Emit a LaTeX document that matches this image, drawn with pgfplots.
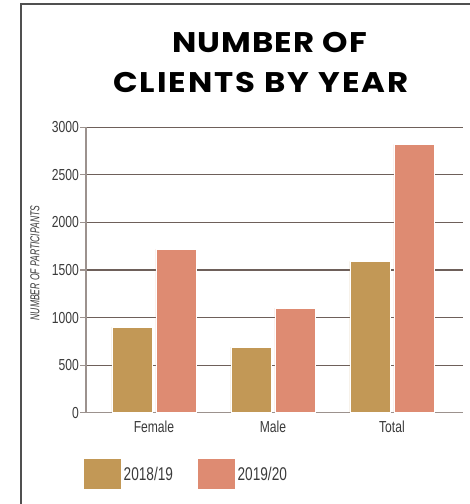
\documentclass[border=0pt]{standalone}
\usepackage{pgfplots}
\pgfplotsset{compat=1.18}
\usepackage{fontspec}
\setmainfont{Liberation Sans}
\newfontfamily\condfont[FakeStretch=0.76]{Liberation Sans}
\newfontfamily\legfont[FakeStretch=0.74]{Liberation Sans}
\newfontfamily\labfont[FakeStretch=0.66]{Liberation Sans}
\newfontfamily\titlefont[FakeStretch=1.14, LetterSpace=4]{Poppins}
\newfontfamily\titlefontb[FakeStretch=1.14, LetterSpace=7]{Poppins}
\definecolor{gold}{HTML}{C29856}
\definecolor{salmon}{HTML}{DE8B72}
\definecolor{gridc}{HTML}{6E605A}
\definecolor{axc}{HTML}{9C928E}
\definecolor{txt}{HTML}{3A3A3A}
\definecolor{framec}{HTML}{505050}
\begin{document}
\begin{tikzpicture}[x=1bp,y=1bp]
\draw[framec, line width=2bp] (21,-2) -- (21,500) -- (472,500);
\node[anchor=base, inner sep=0pt] at (269.5,451.3) {\titlefont\bfseries\fontsize{28.5}{30}\selectfont NUMBER OF};
\node[anchor=base, inner sep=0pt] at (261,411) {\titlefontb\bfseries\fontsize{28.5}{30}\selectfont CLIENTS BY YEAR};
\begin{axis}[
  at={(86bp,91.3bp)}, anchor=south west,
  scale only axis, width=377bp, height=285.4bp,
  ymin=0, ymax=3000, xmin=-0.571, xmax=2.597,
  axis x line=bottom, axis y line=left,
  axis line style={-, draw=axc, line width=1.2bp},
  ytick={0,500,1000,1500,2000,2500,3000},
  xtick={0,1,2}, xticklabels={Female,Male,Total},
  x tick style={draw=none},
  y tick style={draw=axc, line width=1.2bp},
  major tick length=6bp, tick align=outside,
  ymajorgrids, grid style={draw=gridc, line width=1.2bp},
  ybar=4bp, bar width=40bp,
  /pgf/number format/1000 sep={},
  /pgf/number format/assume math mode=true,
  tick label style={font=\condfont\fontsize{16}{18}\selectfont, text=txt},
  yticklabel style={inner sep=1bp},
  xticklabel style={yshift=1bp},
  legend style={at={(axis description cs:-0.016,-0.152)}, anchor=north west,
    draw=none, fill=none, font=\legfont\fontsize{18.5}{20}\selectfont, text=txt,
    /tikz/every even column/.append style={column sep=22bp}},
  legend columns=2,
  legend image code/.code={\fill[#1] (0bp,-15.5bp) rectangle (38bp,15.5bp);},
]
\addplot[fill=gold, draw=white, line width=0.6bp] coordinates {(0,900) (1,690) (2,1590)};
\addplot[fill=salmon, draw=white, line width=0.6bp] coordinates {(0,1720) (1,1100) (2,2820)};
\legend{2018/19,2019/20}
\end{axis}
\node[rotate=90, inner sep=0pt, text=txt] at (35,241) {\labfont\itshape\fontsize{13}{14}\selectfont NUMBER OF PARTICIPANTS};
\pgfresetboundingbox
\path[use as bounding box] (0,0) rectangle (470,504);
\end{tikzpicture}
\end{document}
